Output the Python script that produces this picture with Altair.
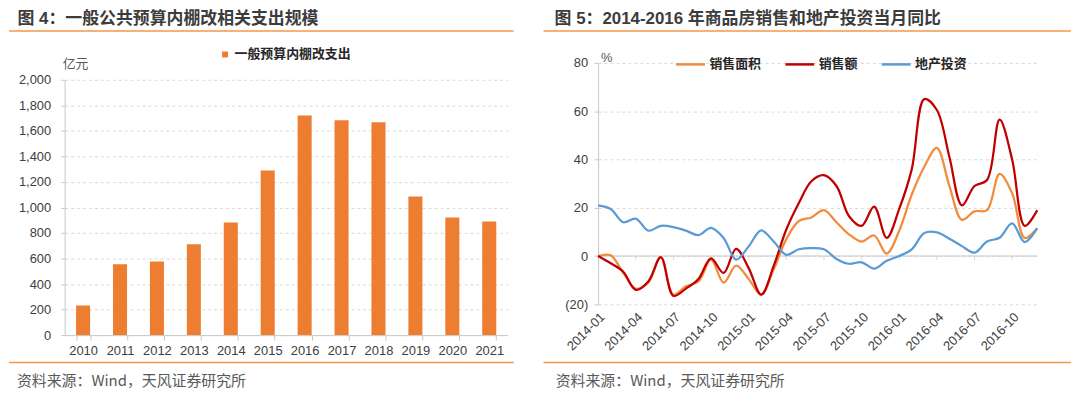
import altair as alt
import pandas as pd

# ---------------- data ----------------
years = ["2010", "2011", "2012", "2013", "2014", "2015", "2016", "2017", "2018", "2019", "2020", "2021"]
spend = [232, 555, 576, 711, 883, 1290, 1721, 1684, 1668, 1086, 922, 890]
bar_series = "一般预算内棚改支出"

month_index = list(range(36))  # 2014-01 ... 2016-12
tick_index = [0, 3, 6, 9, 12, 15, 18, 21, 24, 27, 30, 33]
tick_labels = ["2014-01", "2014-04", "2014-07", "2014-10", "2015-01", "2015-04",
               "2015-07", "2015-10", "2016-01", "2016-04", "2016-07", "2016-10"]

sales_area = [0, 0.3, -7, -13.5, -11, -0.5, -16, -12.5, -10.5, -1.5, -11, -4,
              -9.5, -16, -5.5, 7, 14.5, 16, 19, 14, 9, 6, 8.5, 1,
              10.5, 25.5, 37, 44.8, 29, 15, 18.5, 19, 34, 26, 7.5, 11.5]
sales_amt = [0, -3, -6.5, -14, -10.5, -0.5, -16.5, -13.5, -9.5, -1, -7, 3,
             -5, -16, -4, 11, 22, 31, 33.5, 29, 16.5, 12.5, 20.5, 7.5,
             19.5, 36, 65, 60.5, 41, 21, 29, 31.5, 56.5, 40, 12.5, 19]
invest = [21, 19.5, 14, 15.5, 10.5, 12.5, 12, 10.5, 8.7, 11.7, 7.5, -1.5,
          4, 10.6, 6, 0.5, 2.8, 3.3, 2.8, -1.2, -3.2, -2.6, -5.2, -2,
          0, 2.8, 9.5, 9.8, 7.2, 4.1, 1.4, 6, 7.6, 13.5, 5.8, 11.5]
line_names = ["销售面积", "销售额", "地产投资"]

title1 = "图 4：一般公共预算内棚改相关支出规模"
title2 = "图 5：2014-2016 年商品房销售和地产投资当月同比"
source = "资料来源：Wind，天风证券研究所"
unit1 = "亿元"
unit2 = "%"

# ---------------- styles ----------------
CJK = "Noto Sans CJK SC"
TITLE_FONT = "Liberation Sans, Noto Sans CJK SC"
NUM = "Liberation Sans"
BAR = "#ED7D31"
LINE_COLORS = ["#F08C3C", "#C00000", "#5B9BD5"]
ACCENT = "#F79646"
AX = "#C8C8C8"
GRID = "#D9D9D9"
TXT = "#404040"
TITLE = "#3C3C3C"

df1 = pd.DataFrame({"year": years, "value": spend, "series": [bar_series] * len(years)})
rows = []
for name, vals in zip(line_names, [sales_area, sales_amt, invest]):
    for i, v in zip(month_index, vals):
        rows.append({"i": i, "v": v, "s": name})
df2 = pd.DataFrame(rows)
one = pd.DataFrame({"a": [0]})


def text_layer(txt, x, y, size, weight="normal", color=TXT, font=CJK):
    return alt.Chart(one).mark_text(
        font=font, fontSize=size, fontWeight=weight, color=color,
        align="left", baseline="middle"
    ).encode(x=alt.value(x), y=alt.value(y), text=alt.value(txt))


def hrule(x1, x2, y, color=ACCENT, w=1.5):
    return alt.Chart(one).mark_rule(color=color, strokeWidth=w).encode(
        x=alt.value(x1), x2=alt.value(x2), y=alt.value(y))


def anchor(x1, x2, y1, y2):
    return alt.Chart(one).mark_rect(opacity=0).encode(
        x=alt.value(x1), x2=alt.value(x2), y=alt.value(y1), y2=alt.value(y2))


# ---------------- panel 1 ----------------
W1, H1 = 446, 274
bars = alt.Chart(df1).mark_bar().encode(
    x=alt.X("year:N", sort=years, title=None,
            scale=alt.Scale(paddingInner=0.62, paddingOuter=0.31),
            axis=alt.Axis(labelAngle=0, tickBand="extent", tickSize=5, labelPadding=5,
                          grid=False, labelFontSize=13)),
    y=alt.Y("value:Q", title=None,
            scale=alt.Scale(domain=[0, 2000], range=[H1, 17], nice=False),
            axis=alt.Axis(values=list(range(0, 2001, 200)), format=",.0f", tickSize=4,
                          labelPadding=10, grid=True)),
    color=alt.Color("series:N", scale=alt.Scale(domain=[bar_series], range=[BAR]),
                    legend=alt.Legend(orient="none", legendX=155, legendY=-15, title=None,
                                      symbolType="square", symbolSize=36, labelFont=CJK,
                                      labelFontSize=13, labelFontWeight="bold",
                                      labelColor="#262626", labelOffset=3, padding=0)),
)

panel1 = alt.layer(
    anchor(-56, 0, -54, 331),
    bars,
    text_layer(title1, -47.5, -44, 17, "bold", TITLE, TITLE_FONT),
    hrule(-56, 452, -32),
    hrule(-56, 452, 301.5),
    text_layer(source, -48, 320, 15, "normal", "#595959"),
    text_layer(unit1, -2, 1.5, 13, "normal", "#595959"),
).properties(width=W1, height=H1)

# ---------------- panel 2 ----------------
W2, H2 = 442, 243
label_expr = "split('" + ",".join(tick_labels) + "', ',')[round(datum.value / 3)]"
x2_axis = alt.Axis(values=tick_index, labelExpr=label_expr, labelAngle=-45,
                   labelAlign="right", labelBaseline="top", ticks=False,
                   domain=False, grid=False, labelPadding=6, labelFontSize=13,
                   labelOverlap=False, labelBound=False, labelFlush=False)
lines = alt.Chart(df2).mark_line(interpolate="catmull-rom", strokeWidth=2.25).encode(
    x=alt.X("i:Q", title=None, scale=alt.Scale(domain=[0, 35], nice=False, zero=False),
            axis=x2_axis),
    y=alt.Y("v:Q", title=None, scale=alt.Scale(domain=[-20, 80], nice=False),
            axis=alt.Axis(values=[-20, 0, 20, 40, 60, 80], tickSize=4, labelPadding=6.5,
                          grid=True,
                          labelExpr="datum.value < 0 ? '(' + (-datum.value) + ')' : '' + datum.value")),
    color=alt.Color("s:N", sort=line_names,
                    scale=alt.Scale(domain=line_names, range=LINE_COLORS),
                    legend=alt.Legend(orient="none", legendX=77, legendY=-14.5, title=None,
                                      direction="horizontal", symbolType="stroke",
                                      symbolSize=841, symbolStrokeWidth=2.5,
                                      labelFont=CJK, labelFontSize=13, labelFontWeight="bold",
                                      labelColor="#262626", labelOffset=3, columnPadding=18,
                                      padding=0)),
)

zero_line = alt.Chart(one).mark_rule(color=AX, strokeWidth=1).encode(y=alt.datum(0))
zero_ticks = alt.Chart(pd.DataFrame({"i": tick_index})).mark_tick(
    orient="vertical", size=4, thickness=1, color=AX, yOffset=2
).encode(x=alt.X("i:Q", title=None, axis=x2_axis), y=alt.datum(0))

panel2 = alt.layer(
    anchor(0, 477, -54, 331),
    zero_line,
    zero_ticks,
    lines,
    text_layer(title2, -43.8, -44, 17, "bold", TITLE, TITLE_FONT),
    hrule(-55, 476, -32),
    hrule(-55, 476, 301.5),
    text_layer(source, -42.7, 320, 15, "normal", "#595959"),
    text_layer(unit2, 3, -5.3, 13, "normal", "#595959", NUM),
).properties(width=W2, height=H2)

chart = alt.hconcat(panel1, panel2, spacing=91, bounds="flush").resolve_scale(
    color="independent"
).resolve_legend(color="independent").properties(
    padding=0
).configure_view(stroke=None).configure_axis(
    labelFont=NUM, labelFontSize=13, labelColor=TXT, domainColor=AX, tickColor=AX,
    gridColor=GRID, gridDash=[3, 3]
)

chart.save("out.html", embed_options={"renderer": "svg", "actions": False})
